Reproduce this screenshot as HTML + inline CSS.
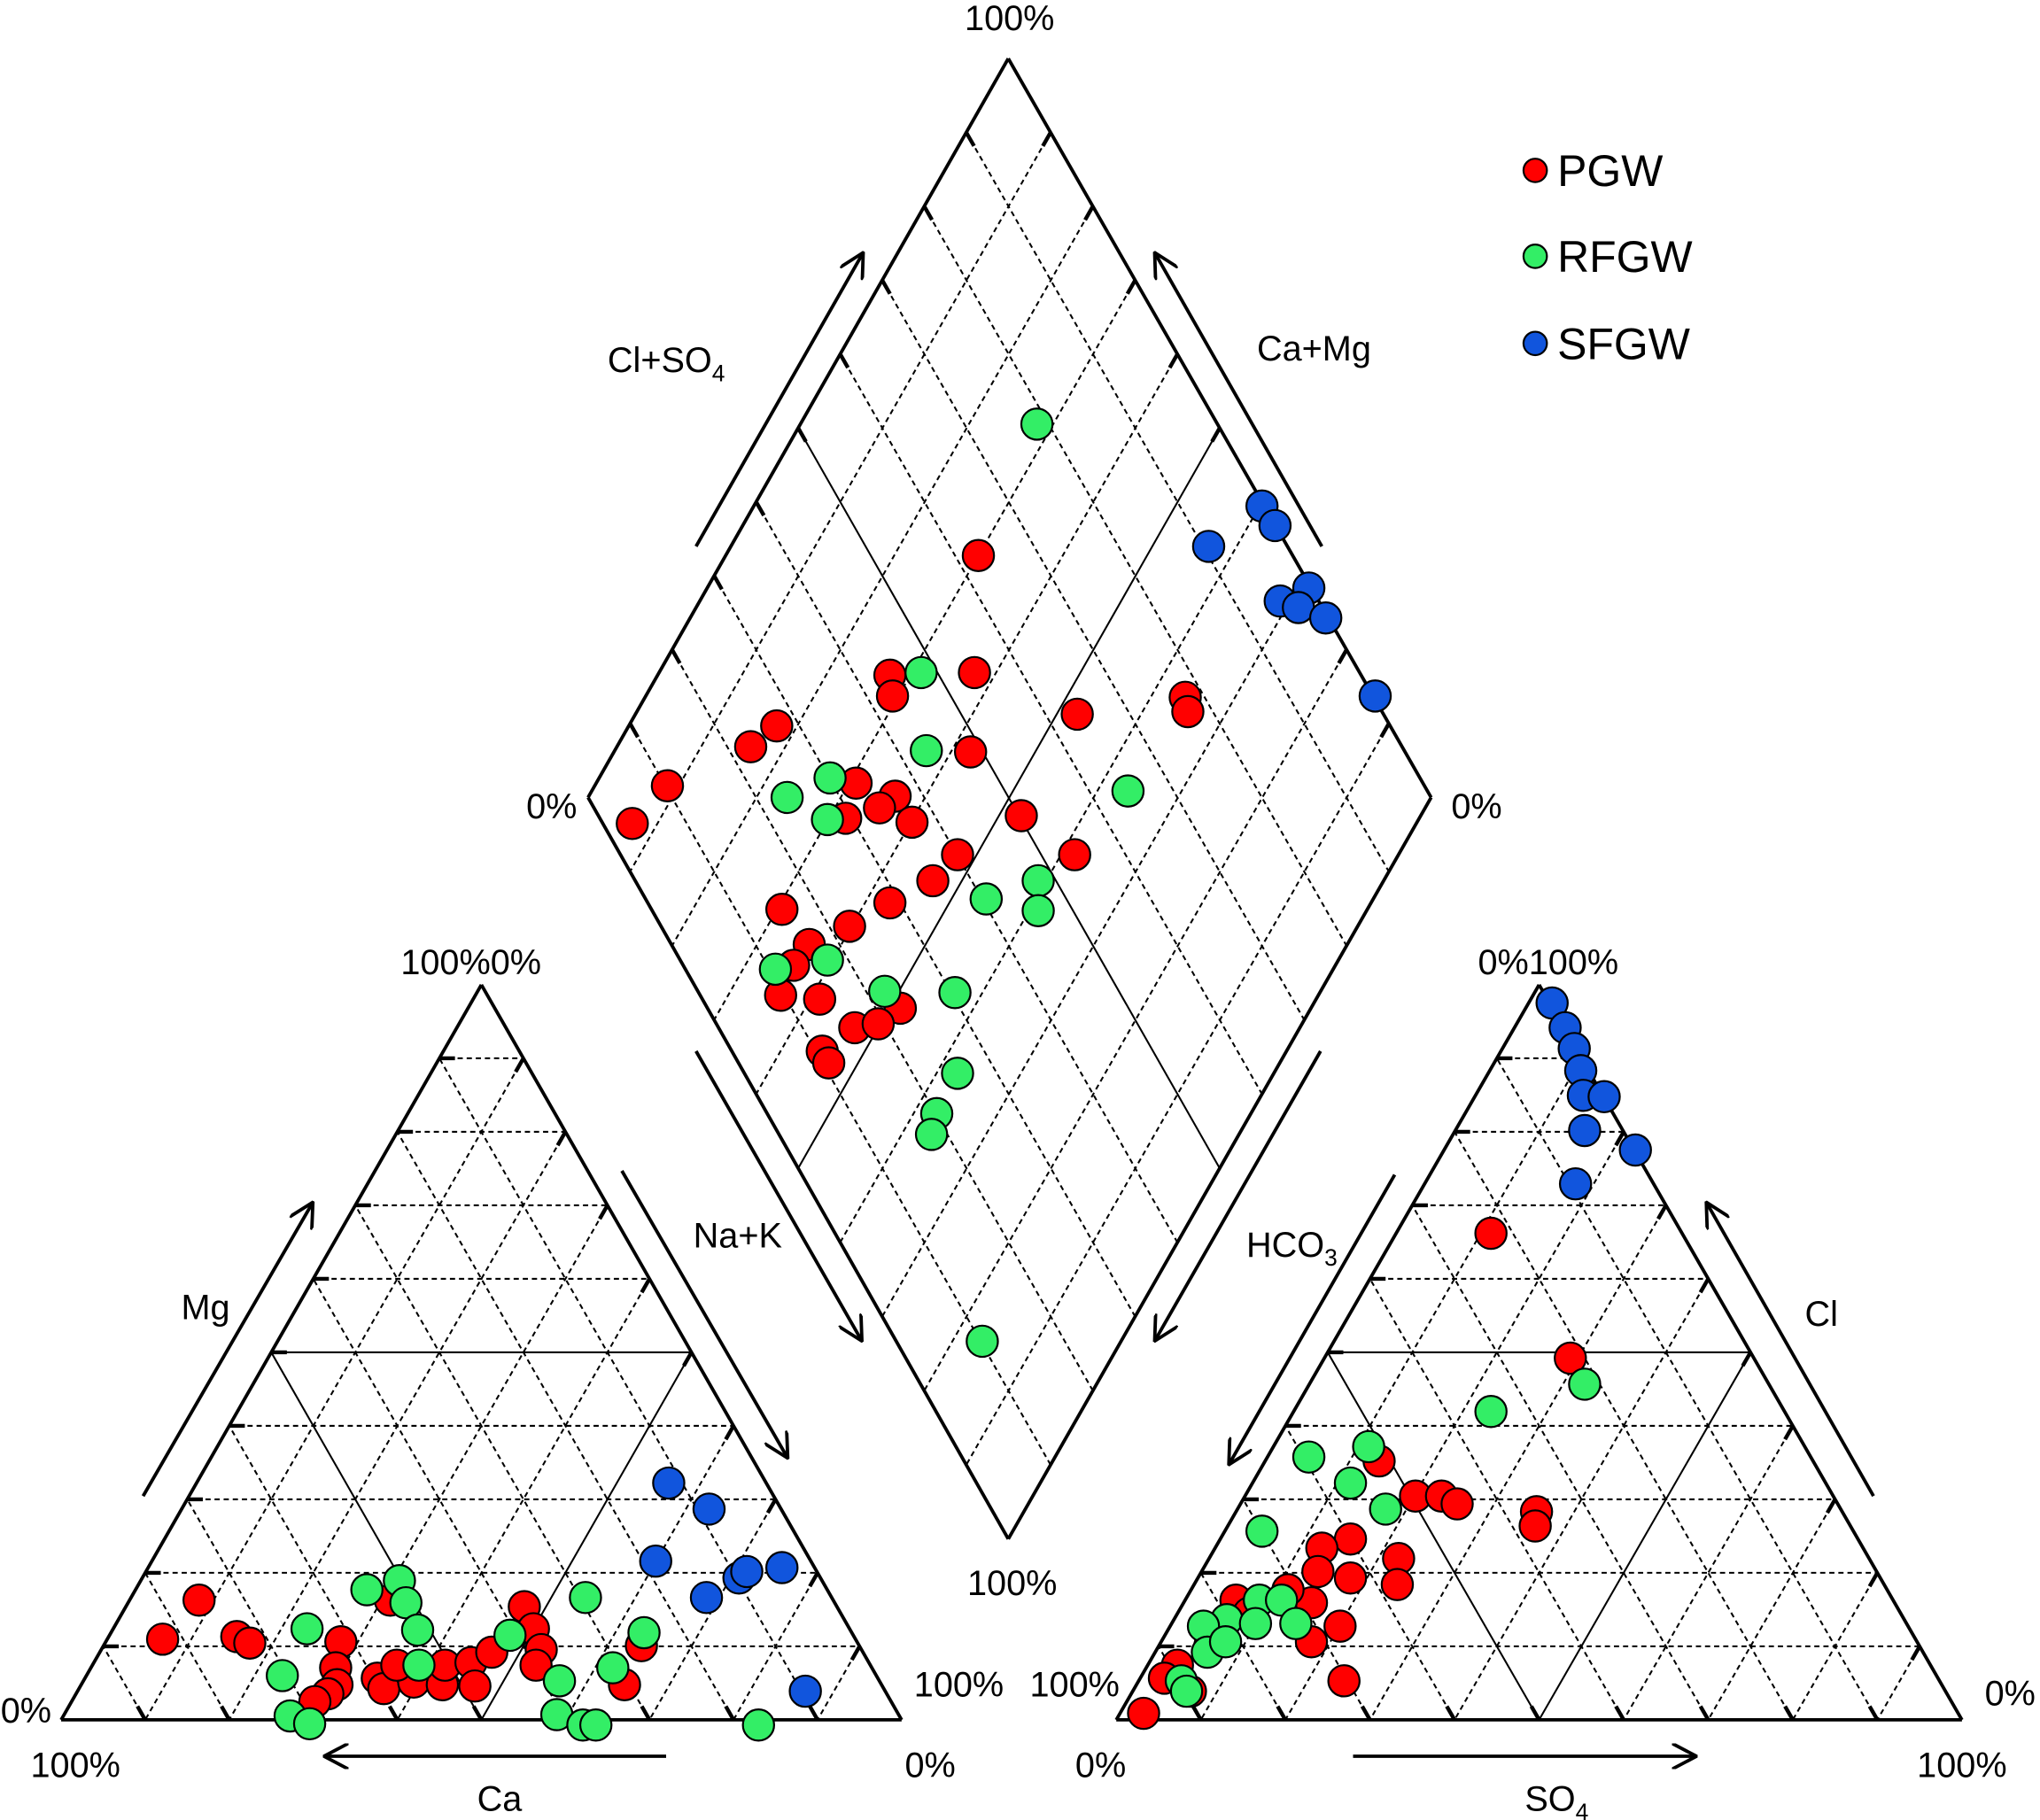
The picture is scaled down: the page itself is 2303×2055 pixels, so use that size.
<!DOCTYPE html>
<html><head><meta charset="utf-8">
<style>
html,body{margin:0;padding:0;background:#fff;}
svg{display:block;}
text{font-family:"Liberation Sans",Arial,sans-serif;fill:#000;}
</style></head>
<body>
<svg id="s" xmlns="http://www.w3.org/2000/svg" width="2303" height="2055" viewBox="0 0 1568 1399" preserveAspectRatio="none">
<defs>
<marker id="ah" viewBox="0 0 20 20" refX="18" refY="10" markerWidth="20" markerHeight="20" markerUnits="userSpaceOnUse" orient="auto">
<path d="M0,0 L19,10 L0,20" fill="none" stroke="#000" stroke-width="2.6"/>
</marker>
</defs>
<g id="grid"></g>
<g id="pts"></g>
<g font-size="27">
<text x="776" y="23" text-anchor="middle">100%</text>
<text x="424" y="629" text-anchor="middle">0%</text>
<text x="1135" y="629" text-anchor="middle">0%</text>
<text x="778" y="1226" text-anchor="middle">100%</text>
<text x="362" y="749" text-anchor="middle">100%0%</text>
<text x="20" y="1324" text-anchor="middle">0%</text>
<text x="58" y="1366" text-anchor="middle">100%</text>
<text x="737" y="1304" text-anchor="middle">100%</text>
<text x="715" y="1366" text-anchor="middle">0%</text>
<text x="1190" y="749" text-anchor="middle">0%100%</text>
<text x="826" y="1304" text-anchor="middle">100%</text>
<text x="1545" y="1311" text-anchor="middle">0%</text>
<text x="846" y="1366" text-anchor="middle">0%</text>
<text x="1508" y="1366" text-anchor="middle">100%</text>
<text x="158" y="1014" text-anchor="middle">Mg</text>
<text x="384" y="1392" text-anchor="middle">Ca</text>
<text x="567" y="959" text-anchor="middle">Na+K</text>
<text x="958" y="966">HCO<tspan font-size="18" dy="7">3</tspan></text>
<text x="1400" y="1019" text-anchor="middle">Cl</text>
<text x="1172" y="1392">SO<tspan font-size="18" dy="7">4</tspan></text>
<text x="467" y="286">Cl+SO<tspan font-size="18" dy="7">4</tspan></text>
<text x="1010" y="277" text-anchor="middle">Ca+Mg</text>
</g>
<g font-size="34">
<circle cx="1180" cy="131" r="9" fill="#ff0000" stroke="#000" stroke-width="1.5"/>
<text x="1197" y="143">PGW</text>
<circle cx="1180" cy="197" r="9" fill="#33ee66" stroke="#000" stroke-width="1.5"/>
<text x="1197" y="209">RFGW</text>
<circle cx="1180" cy="264" r="9" fill="#1155dd" stroke="#000" stroke-width="1.5"/>
<text x="1197" y="276">SFGW</text>
</g>
<g stroke="#000" stroke-width="2.6" fill="none" marker-end="url(#ah)">
<line x1="110" y1="1150" x2="240" y2="925"/>
<line x1="512" y1="1350" x2="250" y2="1350"/>
<line x1="478" y1="900" x2="605" y2="1120"/>
<line x1="1072" y1="903" x2="945" y2="1125"/>
<line x1="1440" y1="1150" x2="1312" y2="925"/>
<line x1="1040" y1="1350" x2="1303" y2="1350"/>
<line x1="535" y1="420" x2="663" y2="195"/>
<line x1="1016" y1="420" x2="888" y2="195"/>
<line x1="535" y1="808" x2="662" y2="1030"/>
<line x1="1015" y1="808" x2="888" y2="1030"/>
</g>
</svg>
<script>
var NS="http://www.w3.org/2000/svg";
var g=document.getElementById('grid'),pg=document.getElementById('pts');
function L(a,b,dash,w){var e=document.createElementNS(NS,'line');e.setAttribute('x1',a[0]);e.setAttribute('y1',a[1]);e.setAttribute('x2',b[0]);e.setAttribute('y2',b[1]);e.setAttribute('stroke','#000');e.setAttribute('stroke-width',w||1.4);if(dash)e.setAttribute('stroke-dasharray','4 3');g.appendChild(e);}
function P(a,b,t){return [a[0]+(b[0]-a[0])*t,a[1]+(b[1]-a[1])*t];}
function tick(a,b){var d=Math.hypot(b[0]-a[0],b[1]-a[1]);L(a,P(a,b,12/d),false,3);}
function gl(a,b,i){L(a,b,i!=5,1.4);tick(a,b);}
function tri(A,B,C){
 for(var i=1;i<10;i++){var t=i/10;
  gl(P(A,C,t),P(B,C,t),i);
  gl(P(A,B,t),P(A,C,t),i);
  gl(P(B,C,t),P(B,A,t),i);}
 L(A,B,false,2.6);L(B,C,false,2.6);L(C,A,false,2.6);}
tri([47,1322],[693,1322],[370,757]);
tri([858,1322],[1508,1322],[1183,757]);
var T=[775,45],Lf=[452,613],R=[1100,613],Bo=[775,1183];
for(var i=1;i<10;i++){var t=i/10;
 gl(P(T,R,t),P(Lf,Bo,t),i);
 gl(P(T,Lf,t),P(R,Bo,t),i);}
L(T,R,false,2.6);L(R,Bo,false,2.6);L(Bo,Lf,false,2.6);L(Lf,T,false,2.6);
var col={r:'#ff0000',g:'#33ee66',b:'#1155dd'};
var data={
r:[[752,427],[684,519],[686,535],[749,517],[597,558],[577,574],[513,604],[486,633],[658,602],[650,629],[688,612],[676,621],[701,632],[746,578],[828,549],[911,536],[913,547],[785,627],[736,657],[717,677],[684,694],[826,657],[601,699],[653,712],[622,726],[610,742],[600,765],[630,768],[692,775],[657,790],[675,787],[632,808],[637,817],
[153,1230],[125,1260],[182,1258],[192,1263],[262,1262],[258,1282],[259,1295],[252,1302],[242,1308],[290,1290],[295,1298],[318,1293],[305,1280],[340,1295],[342,1280],[362,1278],[365,1296],[378,1270],[403,1235],[410,1252],[416,1268],[412,1280],[480,1295],[493,1265],[300,1230],
[1146,948],[1207,1044],[1060,1123],[1088,1150],[1108,1150],[1120,1156],[1181,1162],[1180,1173],[1038,1183],[1016,1190],[1075,1198],[1074,1218],[1038,1213],[1013,1208],[1008,1232],[990,1222],[950,1230],[1030,1250],[1008,1262],[940,1250],[930,1265],[905,1280],[895,1290],[915,1300],[1033,1292],[879,1317],[960,1240]],
g:[[797,326],[708,517],[712,577],[605,613],[638,598],[636,630],[867,608],[758,691],[798,677],[798,700],[596,745],[636,738],[680,762],[734,763],[736,825],[720,856],[716,872],[755,1031],
[282,1222],[307,1215],[312,1232],[321,1253],[322,1280],[236,1252],[217,1288],[223,1319],[238,1325],[392,1257],[450,1228],[495,1255],[471,1282],[430,1292],[428,1318],[448,1326],[458,1326],[583,1326],
[1218,1064],[1146,1085],[1052,1112],[1006,1120],[1038,1140],[1065,1160],[970,1177],[968,1230],[943,1245],[985,1230],[996,1248],[965,1248],[925,1250],[928,1270],[942,1262],[908,1292],[912,1300]],
b:[[970,389],[980,404],[929,420],[1006,452],[984,462],[998,467],[1019,475],[1057,535],
[514,1140],[545,1160],[504,1200],[543,1228],[568,1213],[574,1208],[601,1205],[619,1300],
[1193,771],[1203,790],[1210,806],[1215,823],[1217,842],[1233,843],[1218,869],[1257,884],[1211,910]]};
['r','g','b'].forEach(function(k){data[k].forEach(function(p){var c=document.createElementNS(NS,'circle');c.setAttribute('cx',p[0]);c.setAttribute('cy',p[1]);c.setAttribute('r',12);c.setAttribute('fill',col[k]);c.setAttribute('stroke','#000');c.setAttribute('stroke-width',1.5);pg.appendChild(c);});});
</script>
</body></html>
